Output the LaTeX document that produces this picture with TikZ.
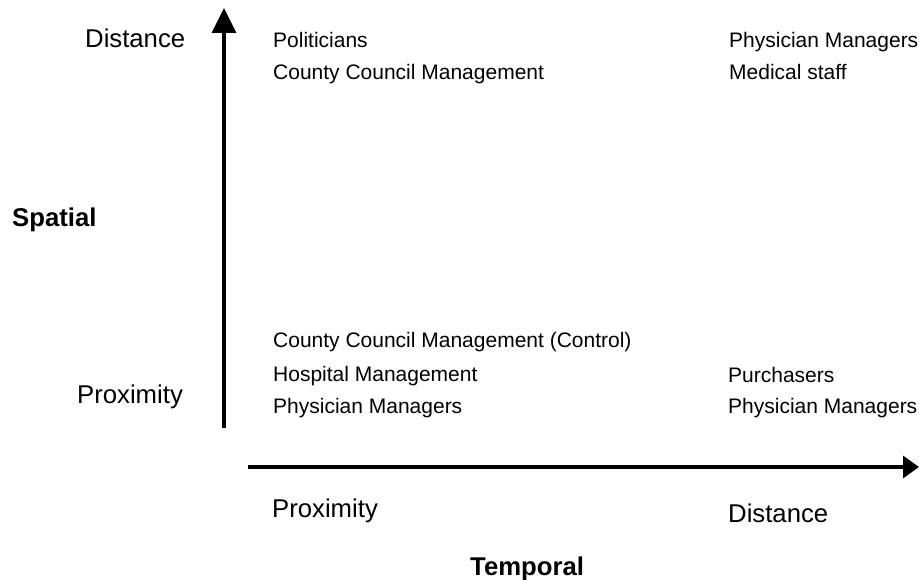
\documentclass[tikz,border=0pt]{standalone}
\usepackage{fontspec}
\setmainfont{Liberation Sans}
\usetikzlibrary{arrows.meta}
\begin{document}
\begin{tikzpicture}[x=1pt,y=-1pt,
  item/.style={anchor=base west,inner sep=0pt,font=\fontsize{21}{25}\selectfont},
  axislabel/.style={anchor=base west,inner sep=0pt,font=\fontsize{25.7}{30}\selectfont},
  axistitle/.style={anchor=base west,inner sep=0pt,font=\fontsize{25.7}{30}\selectfont\bfseries},
  axis/.style={line width=3.3pt}]
\useasboundingbox (0,0) rectangle (919,580);

% axes
\coordinate (vlow) at (224,428);
\coordinate (vtop) at (224,8);
\coordinate (hleft) at (248,467);
\coordinate (hright) at (919,467);
\draw[axis,-{Triangle[length=25pt,width=24pt]}] (vlow) -- (vtop);
\draw[axis,-{Triangle[length=16pt,width=22pt]}] (hleft) -- (hright);

% spatial axis labels
\node[axislabel] (sdist) at (85,48) {Distance};
\node[axistitle] (spatial) at (12,227) {Spatial};
\node[axislabel] (sprox) at (77,403) {Proximity};

% temporal axis labels
\node[axislabel] (tprox) at (272,517) {Proximity};
\node[axislabel] (tdist) at (728,522) {Distance};
\node[axistitle] (temporal) at (470,575) {Temporal};

% upper left quadrant
\node[item] (ul1) at (273,48) {Politicians};
\node[item] (ul2) at (273,80) {County Council Management};

% upper right quadrant
\node[item] (ur1) at (729,48) {Physician Managers};
\node[item] (ur2) at (729,80) {Medical staff};

% lower left quadrant
\node[item] (ll1) at (273,348) {County Council Management (Control)};
\node[item] (ll2) at (273,381) {Hospital Management};
\node[item] (ll3) at (273,413) {Physician Managers};

% lower right quadrant
\node[item] (lr1) at (728,382) {Purchasers};
\node[item] (lr2) at (728,413) {Physician Managers};
\end{tikzpicture}
\end{document}
